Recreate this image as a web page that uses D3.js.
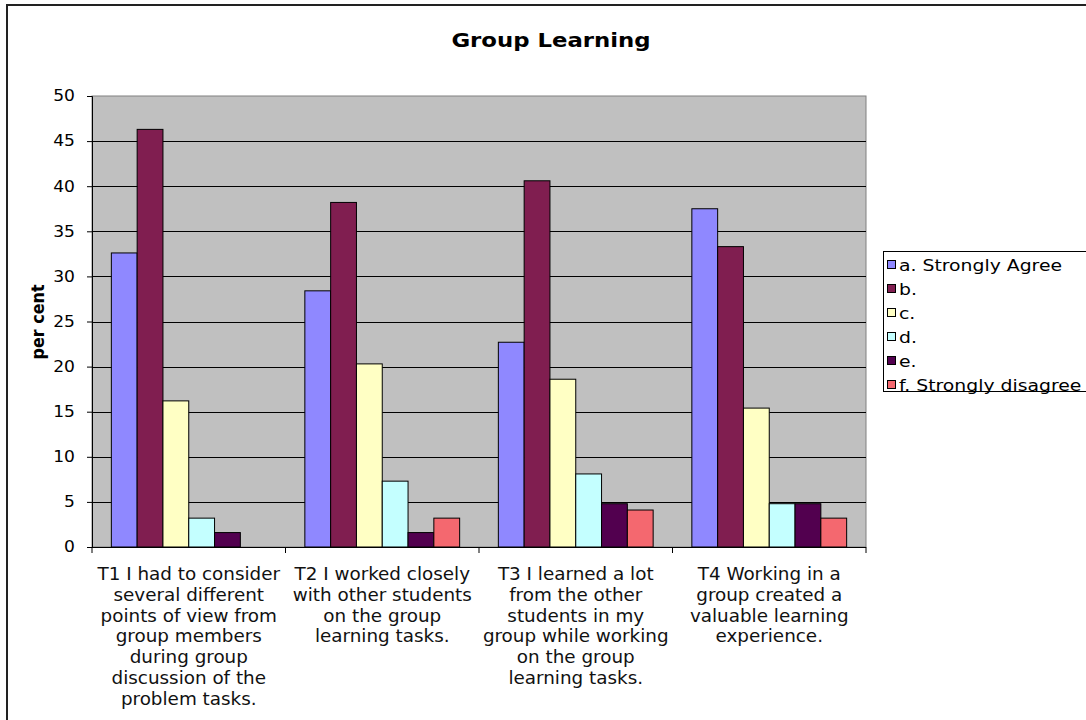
<!DOCTYPE html>
<html>
<head>
<meta charset="utf-8">
<script src="https://cdn.jsdelivr.net/npm/d3@7"></script>
<style>
  html, body { margin: 0; padding: 0; background: #fff; }
  svg { display: block; }
</style>
</head>
<body>
<svg id="chart" width="1086" height="720"></svg>
<script>
// Survey questions (category axis), wrapped over several lines
const categories = ["T1", "T2", "T3", "T4"];
const categoryLabels = [
  ["T1 I had to consider", "several different", "points of view from", "group members", "during group", "discussion of the", "problem tasks."],
  ["T2 I worked closely", "with other students", "on the group", "learning tasks."],
  ["T3 I learned a lot", "from the other", "students in my", "group while working", "on the group", "learning tasks."],
  ["T4 Working in a", "group created a", "valuable learning", "experience."]
];

// Response options (series)
const seriesNames = ["a. Strongly Agree", "b.", "c.", "d.", "e.", "f. Strongly disagree"];
const seriesColors = ["#8F88FF", "#801E50", "#FFFFC4", "#C4FFFF", "#52004F", "#F4686F"];

// Percent of respondents per option, one array per option (T1..T4)
const strongAgree    = [32.6, 28.4, 22.7, 37.5];
const agree          = [46.3, 38.2, 40.6, 33.3];
const neutral        = [16.2, 20.3, 18.6, 15.4];
const slightDisagree = [3.2, 7.3, 8.1, 4.8];
const disagree       = [1.6, 1.6, 4.8, 4.8];
const strongDisagree = [0, 3.2, 4.1, 3.2];
const seriesValues = [strongAgree, agree, neutral, slightDisagree, disagree, strongDisagree];

const yTicks = [0, 5, 10, 15, 20, 25, 30, 35, 40, 45, 50];

const svg = d3.select("#chart");
const plot = { left: 92, right: 866, top: 96, bottom: 547 };
const font = "'DejaVu Sans', Verdana, sans-serif";
const wide = 1.14;   // horizontal stretch of the chart's Verdana-style text
const labelSx = 1.2; // horizontal stretch of the condensed category labels

// Outer chart frame
svg.append("rect")
  .attr("x", 7).attr("y", 5).attr("width", 1100).attr("height", 740)
  .attr("fill", "#fff").attr("stroke", "#222").attr("stroke-width", 2);

// Title
svg.append("text")
  .attr("transform", `translate(551,47) scale(${wide},1)`)
  .attr("text-anchor", "middle")
  .attr("font-family", font).attr("font-weight", "bold").attr("font-size", 20)
  .text("Group Learning");

const x0 = d3.scaleBand().domain(categories).range([plot.left, plot.right]).padding(0);
const x1 = d3.scaleBand().domain(seriesNames)
  .range([x0.bandwidth() * 0.1, x0.bandwidth() * 0.9]).padding(0);
const y = d3.scaleLinear().domain([0, 50]).range([plot.bottom, plot.top]);

// Plot background
svg.append("rect")
  .attr("x", plot.left).attr("y", plot.top)
  .attr("width", plot.right - plot.left).attr("height", plot.bottom - plot.top)
  .attr("fill", "#C0C0C0").attr("stroke", "#808080").attr("stroke-width", 1);

// Horizontal gridlines
svg.append("g").selectAll("line")
  .data(yTicks.filter(t => t > 0 && t < 50))
  .join("line")
  .attr("x1", plot.left).attr("x2", plot.right)
  .attr("y1", d => Math.round(y(d)) + 0.5).attr("y2", d => Math.round(y(d)) + 0.5)
  .attr("stroke", "#000").attr("stroke-width", 1);

// Bars
const groups = svg.append("g").selectAll("g")
  .data(categories)
  .join("g")
  .attr("transform", c => `translate(${x0(c)},0)`);

groups.selectAll("rect")
  .data((c, ci) => seriesNames.map((s, si) => ({ s, si, v: seriesValues[si][ci] })).filter(d => d.v > 0))
  .join("rect")
  .attr("x", d => x1(d.s))
  .attr("y", d => y(d.v))
  .attr("width", x1.bandwidth())
  .attr("height", d => y(0) - y(d.v))
  .attr("fill", d => seriesColors[d.si])
  .attr("stroke", "#000").attr("stroke-width", 1);

// Y axis
const yAxis = svg.append("g")
  .attr("transform", `translate(${plot.left},0)`)
  .call(d3.axisLeft(y).tickValues(yTicks).tickSize(5).tickPadding(0));
yAxis.select(".domain").attr("stroke", "#000");
yAxis.selectAll(".tick line").attr("stroke", "#000");
yAxis.selectAll("text")
  .attr("x", 0)
  .attr("transform", `translate(-17,0) scale(${wide},1)`)
  .attr("font-family", font).attr("font-size", 15).attr("fill", "#000");

// X axis with ticks at category boundaries
const xAxis = svg.append("g").attr("transform", `translate(0,${plot.bottom})`);
xAxis.append("line")
  .attr("x1", plot.left).attr("x2", plot.right).attr("y1", 0.5).attr("y2", 0.5)
  .attr("stroke", "#000");
xAxis.selectAll(".xtick")
  .data(categories.map(c => x0(c)).concat([x0.range()[1]]))
  .join("line")
  .attr("class", "xtick")
  .attr("x1", d => d).attr("x2", d => d).attr("y1", 0).attr("y2", 6)
  .attr("stroke", "#000");

// Category labels
const labels = svg.append("g").selectAll("text")
  .data(categories)
  .join("text")
  .attr("transform", c => `translate(${x0(c) + x0.bandwidth() / 2},580) scale(${labelSx},1)`)
  .attr("text-anchor", "middle")
  .attr("font-family", "'DejaVu Sans Condensed', 'DejaVu Sans', sans-serif")
  .attr("font-stretch", "condensed")
  .attr("font-size", 17)
  .attr("fill", "#111");
labels.selectAll("tspan")
  .data((c, i) => categoryLabels[i])
  .join("tspan")
  .attr("x", 0)
  .attr("dy", (d, i) => i === 0 ? 0 : 20.8)
  .text(d => d);

// Y axis title
svg.append("text")
  .attr("transform", "translate(44,322) rotate(-90) scale(1,1.12)")
  .attr("text-anchor", "middle")
  .attr("font-family", font).attr("font-weight", "bold").attr("font-size", 16)
  .text("per cent");

// Legend
const legend = svg.append("g");
legend.append("rect")
  .attr("x", 883.5).attr("y", 251.5).attr("width", 210).attr("height", 140)
  .attr("fill", "#fff").attr("stroke", "#000").attr("stroke-width", 1);
const items = legend.selectAll("g")
  .data(seriesNames)
  .join("g")
  .attr("transform", (d, i) => `translate(885,${265 + i * 24})`);
items.append("rect")
  .attr("x", 2.5).attr("y", -4.5).attr("width", 8).attr("height", 8)
  .attr("fill", (d, i) => seriesColors[i]).attr("stroke", "#000");
items.append("text")
  .attr("transform", `translate(14,6) scale(${wide},1)`)
  .attr("font-family", font).attr("font-size", 16.5)
  .text(d => d);
</script>
</body>
</html>
